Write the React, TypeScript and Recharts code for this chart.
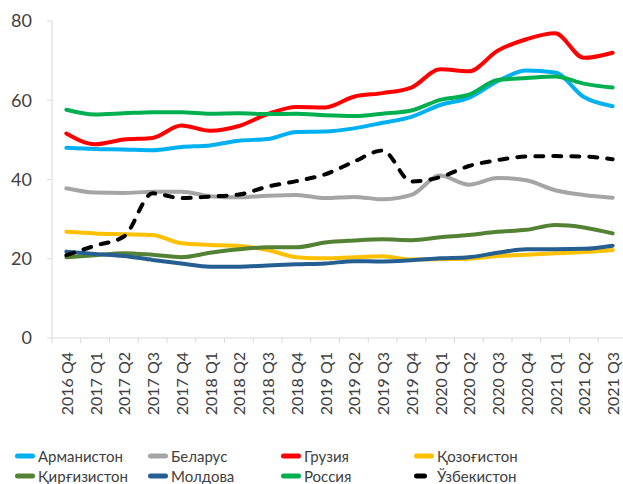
import React from 'react';
import { LineChart, Line, XAxis, YAxis, Legend } from 'recharts';

const categories = [
  '2016 Q4', '2017 Q1', '2017 Q2', '2017 Q3', '2017 Q4',
  '2018 Q1', '2018 Q2', '2018 Q3', '2018 Q4',
  '2019 Q1', '2019 Q2', '2019 Q3', '2019 Q4',
  '2020 Q1', '2020 Q2', '2020 Q3', '2020 Q4',
  '2021 Q1', '2021 Q2', '2021 Q3',
];

const armenia = [48, 47.7, 47.6, 47.4, 48.2, 48.6, 49.8, 50.2, 52, 52.1, 52.9, 54.3, 55.8, 58.8, 60.6, 64.8, 67.5, 67, 60.8, 58.5];
const belarus = [37.8, 36.7, 36.6, 36.9, 36.9, 35.8, 35.5, 35.9, 36.1, 35.3, 35.6, 35, 36.1, 41, 38.7, 40.4, 39.8, 37.3, 36.1, 35.4];
const georgia = [51.6, 48.9, 50.1, 50.5, 53.6, 52.3, 53.5, 56.5, 58.3, 58.2, 60.9, 61.8, 63.2, 67.8, 67.3, 72.5, 75.4, 76.9, 70.7, 72];
const kazakhstan = [26.8, 26.4, 26.2, 26, 23.9, 23.5, 23.2, 22.2, 20.4, 20.1, 20.4, 20.6, 19.8, 19.9, 20, 20.7, 21, 21.4, 21.7, 22.2];
const kyrgyzstan = [20.4, 20.9, 21.4, 21, 20.4, 21.5, 22.4, 22.9, 22.9, 24.1, 24.6, 24.9, 24.7, 25.4, 26, 26.8, 27.3, 28.5, 27.9, 26.4];
const moldova = [21.8, 21.2, 20.7, 19.7, 18.8, 18, 18, 18.3, 18.6, 18.8, 19.4, 19.3, 19.6, 20.1, 20.4, 21.5, 22.4, 22.4, 22.5, 23.3];
const russia = [57.6, 56.4, 56.7, 57, 57, 56.6, 56.7, 56.5, 56.6, 56.2, 56, 56.6, 57.4, 60.1, 61.4, 65.1, 65.6, 66, 64.2, 63.2];
const uzbekistan = [20.9, 23.3, 25.6, 36.5, 35.3, 35.7, 36.2, 38.2, 39.6, 41.3, 44.5, 47.3, 39.5, 40.6, 43.4, 44.9, 45.8, 45.9, 45.8, 45.1];

const yTicks = [0, 20, 40, 60, 80];

const series = [
  { key: 'am', name: 'Арманистон', values: armenia, color: '#00b0f0', dash: undefined as string | undefined },
  { key: 'by', name: 'Беларус', values: belarus, color: '#a5a5a5', dash: undefined },
  { key: 'ge', name: 'Грузия', values: georgia, color: '#ff0000', dash: undefined },
  { key: 'kz', name: 'Қозоғистон', values: kazakhstan, color: '#ffc000', dash: undefined },
  { key: 'kg', name: 'Қирғизистон', values: kyrgyzstan, color: '#548235', dash: undefined },
  { key: 'md', name: 'Молдова', values: moldova, color: '#255e91', dash: undefined },
  { key: 'ru', name: 'Россия', values: russia, color: '#00b050', dash: undefined },
  { key: 'uz', name: 'Ўзбекистон', values: uzbekistan, color: '#000000', dash: '8 10' },
];

const data = categories.map((c, i) => {
  const row: Record<string, string | number> = { cat: c };
  series.forEach((s) => {
    row[s.key] = s.values[i];
  });
  return row;
});

const FONT = 'Lato, "Noto Sans", sans-serif';
const TEXT = '#404040';
const AXIS = '#d9d9d9';
const CHART_W = 630;
const CHART_H = 484;
const MARGIN = { top: 21, right: 3, bottom: 0, left: 0 };
const Y_W = 52;
const X_H = 106;
const LEGEND_H = 40;
const HALF_BAND = (CHART_W - MARGIN.left - MARGIN.right - Y_W) / categories.length / 2;

function XTick(props: any) {
  const { x, y, payload } = props;
  const ty = y + 14;
  return (
    <g>
      <line x1={x - HALF_BAND} x2={x - HALF_BAND} y1={y} y2={y + 5} stroke={AXIS} strokeWidth={1} />
      <text
        x={x}
        y={ty}
        transform={`rotate(-90, ${x}, ${ty})`}
        textAnchor="end"
        dominantBaseline="central"
        fontSize={16}
        fontFamily={FONT}
        fill={TEXT}
      >
        {payload.value}
      </text>
    </g>
  );
}

function renderLegend() {
  return (
    <div
      style={{
        display: 'grid',
        gridTemplateColumns: 'repeat(4, 133px)',
        gridAutoRows: '20px',
        paddingLeft: 15,
        paddingTop: 2,
        fontFamily: FONT,
        fontSize: 15,
        color: TEXT,
      }}
    >
      {series.map((s) => (
        <div key={s.key} style={{ display: 'flex', alignItems: 'center', whiteSpace: 'nowrap' }}>
          <svg width={22} height={10} style={{ display: 'block', marginRight: 1 }}>
            <line
              x1={2.5}
              x2={17.5}
              y1={5}
              y2={5}
              stroke={s.color}
              strokeWidth={5}
              strokeLinecap="round"
              strokeDasharray={s.dash}
            />
          </svg>
          <span>{s.name}</span>
        </div>
      ))}
    </div>
  );
}

export default function App() {
  return (
    <div
      style={{
        position: 'absolute',
        left: 0,
        top: 0,
        width: 623,
        height: 484,
        overflow: 'hidden',
        background: '#ffffff',
      }}
    >
      <LineChart width={CHART_W} height={CHART_H} data={data} margin={MARGIN} style={{ fontFamily: FONT }}>
        <XAxis
          dataKey="cat"
          height={X_H}
          interval={0}
          padding={{ left: HALF_BAND, right: HALF_BAND }}
          tickLine={false}
          tickSize={0}
          tickMargin={0}
          axisLine={{ stroke: AXIS, strokeWidth: 1 }}
          tick={<XTick />}
        />
        <YAxis
          width={Y_W}
          domain={[0, 80]}
          ticks={yTicks}
          interval={0}
          tickSize={5}
          tickMargin={15}
          axisLine={{ stroke: AXIS, strokeWidth: 1 }}
          tickLine={{ stroke: AXIS, strokeWidth: 1 }}
          tick={{ fontSize: 18, fill: TEXT, fontFamily: FONT }}
        />
        <Legend verticalAlign="bottom" height={LEGEND_H} content={renderLegend} wrapperStyle={{ left: 0, width: 623 }} />
        {series.map((s) => (
          <Line
            key={s.key}
            type="monotone"
            dataKey={s.key}
            name={s.name}
            stroke={s.color}
            strokeWidth={4}
            strokeDasharray={s.dash}
            strokeLinecap="round"
            dot={false}
            activeDot={false}
            isAnimationActive={false}
          />
        ))}
      </LineChart>
    </div>
  );
}
